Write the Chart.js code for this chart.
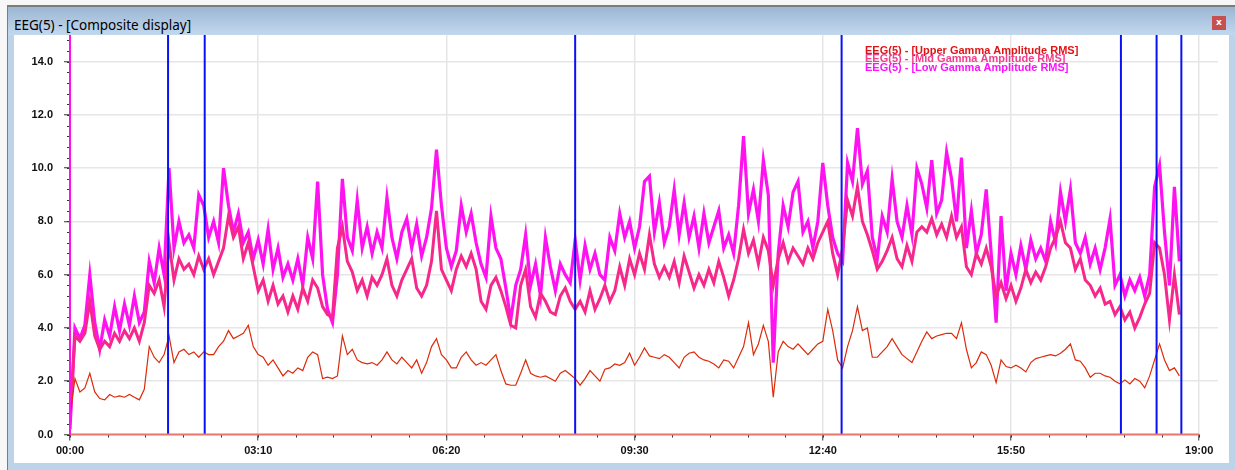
<!DOCTYPE html>
<html>
<head>
<meta charset="utf-8">
<title>EEG(5) - Composite display</title>
<script src="https://cdn.jsdelivr.net/npm/chart.js@4.4.1/dist/chart.umd.min.js"></script>
<style>
  body { margin: 0; width: 1235px; height: 470px; position: relative; overflow: hidden; background: #f7f7f7; }
  #frame { position: absolute; left: 7px; top: 5px; width: 1228px; height: 465px; box-sizing: border-box;
           background: #bcd3ea; border-left: 1px solid #7c7c7c; border-top: 2px solid #7c7c7c; }
  #titlebar { position: absolute; left: 8px; top: 7px; width: 1227px; height: 28px;
              background: linear-gradient(#9cb6d3, #c2d8ef); }
  #titlebar span { position: absolute; left: 6px; top: 9px; line-height: 18px;
                   font: 13.5px "Noto Sans", "DejaVu Sans", sans-serif; color: #000; }
  #close { position: absolute; left: 1204px; top: 9px; width: 14px; height: 14px; background: #c65050;
           color: #fff; font: bold 9px "DejaVu Sans", sans-serif; line-height: 13px; text-align: center; }
  #panel { position: absolute; left: 14px; top: 35px; width: 1215px; height: 428px; background: #fff; }
</style>
</head>
<body>
<div id="frame"></div>
<div id="titlebar"><span>EEG(5) - [Composite display]</span><div id="close">x</div></div>
<div id="panel"><canvas id="eegChart" width="1215" height="428"></canvas></div>

<script>
// sampling interval of the RMS traces, minutes
const stepMinutes = 5;

// x axis: major ticks (minutes) and their labels
const timeTicks = [0, 190, 380, 570, 760, 950, 1140];
const timeLabels = ["00:00", "03:10", "06:20", "09:30", "12:40", "15:50", "19:00"];
const valueTicks = [0, 2, 4, 6, 8, 10, 12, 14];

// event markers (minutes)
const markerMinutes = [99, 136, 510, 779, 1061, 1097, 1122];

const seriesNames = [
  "EEG(5) - [Upper Gamma Amplitude RMS]",
  "EEG(5) - [Mid Gamma Amplitude RMS]",
  "EEG(5) - [Low Gamma Amplitude RMS]"
];

const upperGamma = [
  0.7, 2.1, 1.6, 1.75, 2.3, 1.6, 1.35, 1.3, 1.5, 1.4,
  1.45, 1.4, 1.5, 1.4, 1.3, 1.7, 3.3, 2.9, 2.7, 3.0,
  3.7, 2.7, 3.1, 3.2, 3.0, 3.1, 2.9, 3.1, 3.0, 3.0,
  3.3, 3.5, 3.9, 3.6, 3.7, 3.8, 4.1, 3.3, 3.0, 2.9,
  2.6, 2.8, 2.5, 2.2, 2.4,
  2.3, 2.5, 2.4, 2.9, 3.1, 3.0, 2.1, 2.15, 2.1, 2.2,
  3.7, 3.0, 3.2, 2.8, 2.7, 2.65, 2.7, 2.6, 2.8, 3.1,
  2.8, 2.65, 2.9, 2.7, 2.5, 2.8, 2.3, 2.7, 3.3, 3.6,
  3.0, 2.8, 2.5, 2.5, 2.9, 3.1, 2.8, 2.6, 2.7, 2.6,
  2.8, 3.0, 2.4, 1.9, 1.85,
  1.85, 2.3, 2.8, 2.3, 2.2, 2.15, 2.2, 2.1, 2.0, 2.3,
  2.4, 2.25, 2.1, 1.85, 2.1, 2.4, 2.2, 2.0, 2.45, 2.5,
  2.65, 2.6, 2.7, 3.05, 2.6, 2.9, 3.25, 2.95, 2.9, 2.85,
  3.0, 2.9, 2.7, 2.5, 2.9, 3.05, 3.1, 2.9, 2.8, 2.75,
  2.65, 2.5, 2.8, 2.75,
  2.5, 2.9, 3.3, 4.2, 3.0, 3.4, 4.1, 3.5, 1.4, 3.1,
  3.5, 3.3, 3.2, 3.4, 3.2, 3.0, 3.2, 3.4, 3.5, 4.7,
  3.9, 2.8, 2.5, 3.3, 3.9, 4.8, 3.9, 4.0, 2.9, 2.9,
  3.1, 3.3, 3.6, 3.3, 3.0, 2.85, 2.7, 3.1, 3.5, 3.85,
  3.6, 3.7, 3.75, 3.8,
  3.8, 3.6, 4.2, 3.2, 2.5, 2.7, 3.1, 3.0, 2.6, 1.95,
  2.8, 2.55, 2.5, 2.6, 2.5, 2.35, 2.7, 2.85, 2.9, 2.95,
  3.0, 2.95, 3.05, 3.2, 3.4, 2.8, 2.75, 2.5, 2.15, 2.3,
  2.3, 2.2, 2.15, 2.0, 1.9, 2.05, 1.9, 2.1, 2.0, 1.75,
  2.2, 2.8, 3.4, 2.8, 2.4, 2.5, 2.2
];

const midGamma = [
  0.5, 3.7, 3.5, 3.8, 5.0, 3.7, 3.2, 3.5, 3.3, 3.8,
  3.5, 3.9, 3.6, 4.0, 3.5, 4.2, 5.6, 5.3, 5.8, 4.8,
  7.2, 5.8, 6.6, 6.2, 6.4, 6.0, 6.7, 6.2, 6.6, 6.0,
  6.5, 7.0, 8.2, 7.4, 7.8, 6.6, 7.2, 6.3, 5.4, 5.8,
  5.0, 5.6, 4.9, 5.2, 4.6,
  5.2, 4.7, 5.5, 5.0, 5.8, 5.5, 4.8, 4.5, 4.4, 7.0,
  7.8, 6.5, 6.1, 5.4, 5.8, 5.2, 5.9, 5.6, 6.0, 6.6,
  5.6, 5.2, 5.8, 6.2, 6.6, 5.5, 5.2, 5.6, 6.5, 8.4,
  6.2, 5.8, 5.4, 6.2, 6.7, 6.3, 6.8, 6.2, 5.0, 4.7,
  5.6, 5.9, 5.4, 4.8, 4.1,
  4.0, 5.6, 6.2, 4.8, 4.4, 5.3, 5.0, 4.6, 4.5, 5.2,
  5.5, 5.0, 4.7, 5.0, 4.6, 5.4, 4.7, 5.1, 5.6, 5.0,
  5.4, 6.3, 5.6, 6.6, 6.0, 6.8, 6.2, 7.5, 6.4, 5.9,
  6.3, 5.9, 6.5, 5.7, 6.7, 6.1, 5.5, 6.0, 5.6, 6.2,
  5.7, 6.5, 5.9, 5.2,
  5.8, 6.6, 7.7, 6.8, 7.3, 6.4, 7.4, 6.9, 5.6, 6.6,
  7.2, 6.5, 7.0, 6.7, 6.4, 7.0, 6.6, 7.2, 7.6, 8.0,
  6.8, 6.0, 7.0, 8.8, 8.2, 9.3, 8.0, 7.5, 6.9, 6.2,
  6.5, 6.9, 7.4, 6.6, 6.3, 7.1, 6.5, 7.6, 7.8, 7.6,
  8.1, 7.5, 7.9, 7.4,
  8.2, 7.4, 7.8, 6.3, 6.0, 6.8, 6.4, 7.0, 6.3, 5.2,
  5.7, 5.1, 5.6, 5.0, 5.5, 6.2, 5.7, 6.1, 5.8, 6.3,
  7.0, 7.4, 8.0, 7.2, 7.0, 6.2, 6.6, 5.8, 5.6, 5.2,
  5.5, 4.9, 5.0, 4.5, 4.8, 4.3, 4.6, 4.0, 4.4, 4.9,
  5.3, 7.2, 7.0, 6.0, 4.3, 6.0, 4.5
];

const lowGamma = [
  0.2, 4.0, 3.6, 4.1, 6.0, 4.2, 3.2, 4.3, 3.7, 4.8,
  3.9, 4.9, 4.1, 5.2, 4.2, 4.6, 6.5, 5.7, 7.0, 6.0,
  10.0, 7.0, 8.0, 7.2, 7.5, 7.0, 9.0, 8.6, 7.4, 8.0,
  7.2, 10.0, 8.6, 7.6, 8.3, 7.2, 7.6, 6.6, 7.3, 6.4,
  7.7, 6.2, 7.0, 5.9, 6.4,
  5.8, 6.6, 5.6, 7.4, 6.6, 9.5, 6.0, 4.7, 4.2, 6.0,
  9.6, 7.4, 6.9, 8.8, 7.0, 7.8, 6.8, 7.6, 7.0, 8.9,
  7.4, 6.6, 7.6, 8.1, 7.0, 7.9, 6.7, 7.4, 8.5, 10.7,
  8.6, 7.0, 6.3, 6.9, 8.6, 7.6, 8.3, 7.2, 6.4, 5.9,
  8.2, 7.0, 6.6, 5.5, 4.3,
  5.6, 6.2, 7.5, 5.6, 6.4, 5.2, 7.4, 6.3, 5.4, 6.4,
  6.0, 5.7, 7.3, 5.8, 7.1, 6.2, 6.8, 6.0, 5.8, 7.4,
  6.9, 8.3, 7.4, 8.0, 7.0, 7.8, 9.5, 9.7, 7.6, 8.7,
  7.2, 7.8, 9.2, 7.5, 8.7, 7.4, 8.2, 7.0, 8.3, 7.2,
  7.8, 8.4, 7.0, 7.5,
  6.8, 8.6, 11.2, 8.3, 9.2, 8.0, 10.3, 9.0, 2.7, 6.8,
  8.6, 7.8, 9.1, 9.5, 7.6, 8.0, 7.0, 8.0, 10.2, 8.6,
  7.4, 6.8, 6.5, 10.2, 9.5, 11.5, 9.4, 9.9, 7.4, 6.6,
  8.2, 7.6, 9.6, 8.0, 7.4, 8.6, 7.5, 10.0, 9.4, 8.5,
  10.3, 8.3, 8.8, 10.6,
  9.6, 8.0, 10.4, 7.0, 8.4, 6.8, 7.5, 9.2, 6.8, 4.2,
  8.2, 5.4, 6.8, 6.0, 7.1, 6.2, 7.3, 6.6, 7.0, 6.5,
  8.0, 7.2, 9.1, 8.0, 9.2, 7.2, 6.8, 7.4, 6.4, 7.0,
  6.2, 7.0, 8.1, 5.6, 6.0, 5.2, 5.8, 5.4, 5.9, 5.2,
  6.0, 9.3, 10.1, 7.6, 5.6, 9.3, 6.5
];

const seriesColors = ["#dc2a0a", "#f7288c", "#ff12f0"];
const legendColors = ["#e01414", "#f0408c", "#ff10ff"];
const tickFont = { family: "'Liberation Sans', Arial, sans-serif", size: 11, weight: "bold" };

function toPoints(values) {
  return values.map((v, i) => ({ x: i * stepMinutes, y: v }));
}

// minor ticks, axis lines and the stacked series captions
const overlayPlugin = {
  id: "overlay",
  afterDraw(chart) {
    const { ctx, chartArea, scales: { x, y } } = chart;
    ctx.save();

    ctx.strokeStyle = "#333";
    ctx.lineWidth = 1;
    ctx.beginPath();
    for (let m = 0; m <= 1140; m += 38) {
      const px = Math.round(x.getPixelForValue(m)) + 0.5;
      ctx.moveTo(px, chartArea.bottom);
      ctx.lineTo(px, chartArea.bottom + 3);
    }
    for (let v = 0; v <= 14.81; v += 0.4) {
      const py = Math.round(y.getPixelForValue(v)) + 0.5;
      ctx.moveTo(chartArea.left - 3, py);
      ctx.lineTo(chartArea.left, py);
    }
    ctx.stroke();

    // x axis line in salmon, up to 19:00
    ctx.strokeStyle = "#e8756c";
    ctx.lineWidth = 2;
    ctx.beginPath();
    ctx.moveTo(chartArea.left, chartArea.bottom);
    ctx.lineTo(x.getPixelForValue(1140), chartArea.bottom);
    ctx.stroke();

    // y axis line in magenta
    ctx.strokeStyle = "#ff10f0";
    ctx.beginPath();
    ctx.moveTo(chartArea.left, chartArea.bottom);
    ctx.lineTo(chartArea.left, chartArea.top);
    ctx.stroke();

    ctx.font = "bold 11px 'Liberation Sans', Arial, sans-serif";
    ctx.textBaseline = "alphabetic";
    const baselines = [19, 27, 36];
    seriesNames.forEach((name, i) => {
      ctx.fillStyle = legendColors[i];
      ctx.fillText(name, 851, baselines[i]);
    });
    ctx.restore();
  }
};

const markerSets = markerMinutes.map(m => ({
  data: [{ x: m, y: 0 }, { x: m, y: 15 }],
  borderColor: "#0a12f2",
  borderWidth: 2,
  pointRadius: 0,
  order: 0
}));

// keep the plot box fixed: no extra room for half-labels at the ends
const noEdgePadding = scale => {
  scale.paddingTop = 0;
  scale.paddingBottom = 0;
  scale.paddingLeft = 0;
  scale.paddingRight = 0;
};

new Chart(document.getElementById("eegChart"), {
  type: "line",
  data: {
    datasets: [
      ...markerSets,
      { label: seriesNames[0], data: toPoints(upperGamma), borderColor: seriesColors[0], borderWidth: 1.2, pointRadius: 0, tension: 0, order: 1 },
      { label: seriesNames[1], data: toPoints(midGamma), borderColor: seriesColors[1], borderWidth: 3, pointRadius: 0, tension: 0, order: 2 },
      { label: seriesNames[2], data: toPoints(lowGamma), borderColor: seriesColors[2], borderWidth: 3.2, pointRadius: 0, tension: 0, order: 3 }
    ]
  },
  options: {
    responsive: false,
    animation: false,
    layout: { padding: { left: 0, right: 11, top: 0, bottom: 0 } },
    plugins: { legend: { display: false }, tooltip: { enabled: false } },
    scales: {
      x: {
        type: "linear",
        min: 0,
        max: 1159,
        afterBuildTicks: scale => { scale.ticks = timeTicks.map(v => ({ value: v })); },
        afterFit: scale => { scale.height = 28.5; noEdgePadding(scale); },
        border: { display: false },
        grid: {
          color: c => (c.tick && c.tick.value === 0 ? "rgba(0,0,0,0)" : "#e6e6e6"),
          lineWidth: 1.5,
          tickColor: "#333",
          tickLength: 6,
          tickWidth: 1
        },
        ticks: {
          autoSkip: false,
          maxRotation: 0,
          padding: 4,
          color: "#111",
          font: tickFont,
          callback: v => timeLabels[timeTicks.indexOf(v)]
        }
      },
      y: {
        min: 0,
        max: 15,
        afterBuildTicks: scale => { scale.ticks = valueTicks.map(v => ({ value: v })); },
        afterFit: scale => { scale.width = 56; noEdgePadding(scale); },
        border: { display: false },
        grid: {
          color: c => (c.tick && c.tick.value === 0 ? "rgba(0,0,0,0)" : "#e6e6e6"),
          lineWidth: 1.5,
          tickColor: "#333",
          tickLength: 6,
          tickWidth: 1
        },
        ticks: {
          padding: 11,
          color: "#111",
          font: tickFont,
          callback: v => v.toFixed(1)
        }
      }
    }
  },
  plugins: [overlayPlugin]
});
</script>
</body>
</html>
